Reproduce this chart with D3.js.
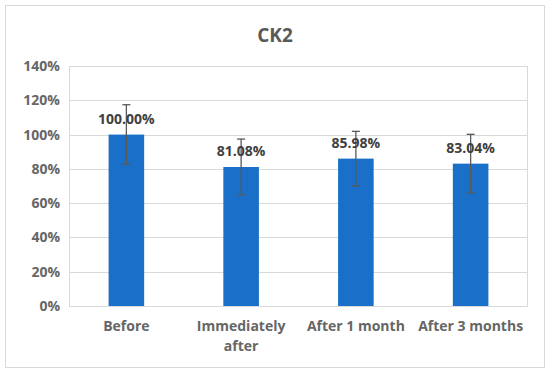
<!DOCTYPE html>
<html>
<head>
<meta charset="utf-8">
<script src="https://cdn.jsdelivr.net/npm/d3@7"></script>
<style>
  body { margin: 0; background: #fff; }
  text { font-family: "Open Sans", "Liberation Sans", sans-serif; font-weight: bold; }
</style>
</head>
<body>
<div id="chart"></div>
<script>
// chart data
var categories = ['Before', 'Immediately after', 'After 1 month', 'After 3 months']
var values = [100.0, 81.08, 85.98, 83.04]
var errors = [17.4, 16.3, 15.9, 17.1]
var yTicks = [0, 20, 40, 60, 80, 100, 120, 140]

var W = 550, H = 374
var margin = { top: 66, right: 22, bottom: 68, left: 69 }
var width = W - margin.left - margin.right
var height = H - margin.top - margin.bottom

var svg = d3.select('#chart').append('svg')
  .attr('width', W)
  .attr('height', H)

// outer frame
svg.append('rect')
  .attr('x', 5.5).attr('y', 5.5)
  .attr('width', 539).attr('height', 362)
  .attr('fill', '#fff')
  .attr('stroke', '#d9d9d9')

// title
svg.append('text')
  .attr('x', 275).attr('y', 42)
  .attr('text-anchor', 'middle')
  .attr('fill', '#595959')
  .style('font-size', '19px')
  .text('CK2')

var g = svg.append('g')
  .attr('transform', 'translate(' + margin.left + ',' + margin.top + ')')

var x = d3.scaleBand().domain(categories).range([0, width]).paddingInner(0.69).paddingOuter(0.345)
var y = d3.scaleLinear().domain([0, 140]).range([height, 0])

// gridlines
g.selectAll('.grid')
  .data(yTicks)
  .enter().append('line')
  .attr('x1', 0).attr('x2', width)
  .attr('y1', function (d) { return Math.round(y(d)) + 0.5 })
  .attr('y2', function (d) { return Math.round(y(d)) + 0.5 })
  .attr('stroke', '#d9d9d9')

// plot area side borders
g.append('line').attr('x1', 0.5).attr('x2', 0.5).attr('y1', 0).attr('y2', height).attr('stroke', '#d9d9d9')
g.append('line').attr('x1', width - 0.5).attr('x2', width - 0.5).attr('y1', 0).attr('y2', height).attr('stroke', '#d9d9d9')

// y axis labels
var yAxis = d3.axisLeft(y).tickValues(yTicks).tickSize(0).tickPadding(9)
  .tickFormat(function (d) { return d + '%' })
var ya = g.append('g').call(yAxis)
ya.select('.domain').remove()
ya.selectAll('text').attr('fill', '#666').style('font-size', '14px')

// bars
g.selectAll('.bar')
  .data(values)
  .enter().append('rect')
  .attr('x', function (d, i) { return x(categories[i]) })
  .attr('y', function (d) { return y(d) })
  .attr('width', x.bandwidth())
  .attr('height', function (d) { return height - y(d) })
  .attr('fill', '#1a70c8')

// error bars
values.forEach(function (v, i) {
  var cx = x(categories[i]) + x.bandwidth() / 2
  var e = g.append('g').attr('stroke', '#595959').attr('stroke-width', 1.3)
  e.append('line').attr('x1', cx).attr('x2', cx).attr('y1', y(v + errors[i])).attr('y2', y(v - errors[i]))
  e.append('line').attr('x1', cx - 4).attr('x2', cx + 4).attr('y1', y(v + errors[i])).attr('y2', y(v + errors[i]))
  e.append('line').attr('x1', cx - 4).attr('x2', cx + 4).attr('y1', y(v - errors[i])).attr('y2', y(v - errors[i]))
})

// data labels
g.selectAll('.lbl')
  .data(values)
  .enter().append('text')
  .attr('x', function (d, i) { return x(categories[i]) + x.bandwidth() / 2 })
  .attr('y', function (d) { return y(d) - 11 })
  .attr('text-anchor', 'middle')
  .attr('fill', '#404040')
  .style('font-size', '14px')
  .text(function (d) { return d.toFixed(2) + '%' })

// x axis labels
var xAxis = d3.axisBottom(x).tickSize(0).tickPadding(15)
var xa = g.append('g').attr('transform', 'translate(0,' + height + ')').call(xAxis)
xa.select('.domain').remove()
xa.selectAll('text').attr('fill', '#666').style('font-size', '14px')
  .each(function (d) {
    if (d === 'Immediately after') {
      var t = d3.select(this).text(null)
      t.append('tspan').attr('x', 0).attr('dy', '0.71em').text('Immediately')
      t.append('tspan').attr('x', 0).attr('dy', '1.45em').text('after')
      t.attr('dy', null)
    }
  })
</script>
</body>
</html>
